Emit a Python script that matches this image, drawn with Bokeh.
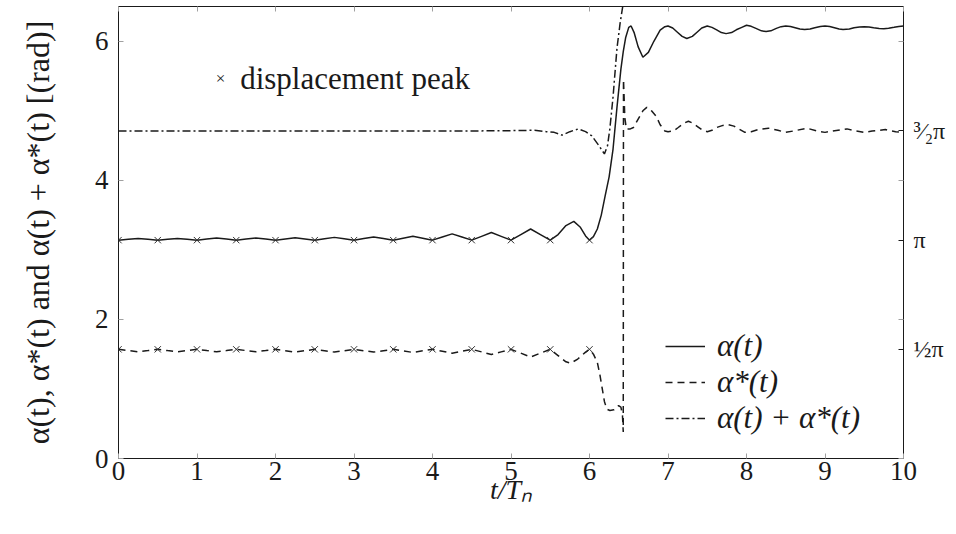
import math
from bokeh.plotting import figure
from bokeh.models import LinearAxis, FixedTicker, Range1d, Label
from bokeh.embed import file_html
from bokeh.resources import INLINE

# ---- data ----
alpha_t = [0, 0.125, 0.25, 0.375, 0.5, 0.625, 0.75, 0.875, 1.0, 1.125, 1.25, 1.375, 1.5,
           1.625, 1.75, 1.875, 2.0, 2.125, 2.25, 2.375, 2.5, 2.625, 2.75, 2.875, 3.0,
           3.125, 3.25, 3.375, 3.5, 3.625, 3.75, 3.875, 4.0, 4.125, 4.25, 4.375, 4.5,
           4.625, 4.75, 4.875, 5.0, 5.125, 5.25, 5.375, 5.5, 5.6, 5.7, 5.8, 5.88, 5.95, 6.0,
           6.05, 6.1, 6.15, 6.2, 6.25, 6.3, 6.35, 6.4, 6.43, 6.46, 6.5, 6.53, 6.57, 6.62,
           6.68, 6.75, 6.82, 6.9, 6.96, 7.0, 7.06, 7.12, 7.18, 7.24, 7.31, 7.37, 7.43, 7.5,
           7.56, 7.62, 7.68, 7.74, 7.81, 7.87, 7.94, 8.0, 8.06, 8.12, 8.19, 8.25, 8.31, 8.38,
           8.44, 8.5, 8.56, 8.62, 8.68, 8.74, 8.81, 8.87, 8.94, 9.0, 9.06, 9.12, 9.18, 9.23,
           9.31, 9.37, 9.44, 9.5, 9.56, 9.62, 9.69, 9.75, 9.81, 9.88, 9.94, 10.0]
alpha_v = [3.14, 3.153, 3.165, 3.153, 3.14, 3.153, 3.165, 3.153, 3.14, 3.155, 3.17, 3.155, 3.14,
           3.155, 3.17, 3.155, 3.14, 3.158, 3.175, 3.158, 3.14, 3.16, 3.18, 3.16, 3.14,
           3.163, 3.185, 3.163, 3.14, 3.168, 3.195, 3.168, 3.14, 3.185, 3.23, 3.185, 3.14,
           3.195, 3.25, 3.195, 3.14, 3.22, 3.30, 3.22, 3.14, 3.22, 3.35, 3.41, 3.33, 3.2, 3.14,
           3.19, 3.30, 3.50, 3.78, 4.05, 4.45, 5.05, 5.6, 5.85, 6.05, 6.2, 6.22, 6.12, 5.92,
           5.77, 5.84, 6.0, 6.16, 6.21, 6.22, 6.19, 6.13, 6.07, 6.04, 6.07, 6.13, 6.19, 6.22,
           6.20, 6.165, 6.125, 6.11, 6.125, 6.165, 6.20, 6.23, 6.215, 6.185, 6.15, 6.14, 6.15, 6.185,
           6.21, 6.22, 6.213, 6.195, 6.177, 6.17, 6.177, 6.195, 6.213, 6.22, 6.213, 6.195, 6.177, 6.17,
           6.177, 6.195, 6.205, 6.21, 6.205, 6.195, 6.185, 6.18, 6.187, 6.2, 6.212, 6.22]

astar_t = [0, 0.125, 0.25, 0.375, 0.5, 0.625, 0.75, 0.875, 1.0, 1.125, 1.25, 1.375, 1.5,
           1.625, 1.75, 1.875, 2.0, 2.125, 2.25, 2.375, 2.5, 2.625, 2.75, 2.875, 3.0,
           3.125, 3.25, 3.375, 3.5, 3.625, 3.75, 3.875, 4.0, 4.125, 4.25, 4.375, 4.5,
           4.625, 4.75, 4.875, 5.0, 5.125, 5.25, 5.375, 5.5, 5.6, 5.7, 5.76, 5.85, 5.95, 6.0,
           6.05, 6.1, 6.13, 6.16, 6.19, 6.22, 6.26, 6.31, 6.37, 6.40, 6.42, 6.43, 6.433, 6.45,
           6.47, 6.52, 6.56, 6.62, 6.68, 6.73, 6.79, 6.85, 6.9, 6.96, 7.0, 7.07, 7.13, 7.2,
           7.26, 7.32, 7.38, 7.44, 7.5, 7.56, 7.62, 7.7, 7.77, 7.84, 7.9, 7.98, 8.06, 8.15,
           8.28, 8.4, 8.5, 8.6, 8.77, 8.9, 9.0, 9.1, 9.28, 9.4, 9.5, 9.6, 9.77, 9.9, 10.0]
astar_v = [1.57, 1.552, 1.535, 1.552, 1.57, 1.552, 1.535, 1.552, 1.57, 1.552, 1.535, 1.552, 1.57,
           1.552, 1.535, 1.552, 1.57, 1.55, 1.53, 1.55, 1.57, 1.55, 1.53, 1.55, 1.57,
           1.55, 1.53, 1.55, 1.57, 1.548, 1.525, 1.548, 1.57, 1.543, 1.515, 1.543, 1.57,
           1.533, 1.495, 1.533, 1.57, 1.515, 1.46, 1.515, 1.57, 1.48, 1.39, 1.37, 1.43, 1.53, 1.57,
           1.50, 1.38, 1.22, 1.02, 0.82, 0.71, 0.69, 0.70, 0.76, 0.74, 0.62, 0.38, 5.45, 4.9,
           4.74, 4.74, 4.76, 4.88, 5.0, 5.05, 5.0, 4.92, 4.8, 4.71, 4.70, 4.71, 4.76, 4.82,
           4.85, 4.82, 4.77, 4.72, 4.70, 4.72, 4.76, 4.79, 4.80, 4.78, 4.74, 4.69, 4.70, 4.73,
           4.75, 4.72, 4.69, 4.71, 4.75, 4.71, 4.69, 4.71, 4.74, 4.71, 4.69, 4.71, 4.73, 4.70, 4.69]

sum_t = [0, 1, 2, 3, 4, 4.5, 5.0, 5.3, 5.45, 5.55, 5.65, 5.75, 5.86, 5.95, 6.03, 6.12,
         6.19, 6.23, 6.26, 6.3, 6.35, 6.39, 6.43, 6.46]
sum_v = [4.71, 4.71, 4.71, 4.71, 4.71, 4.71, 4.715, 4.72, 4.70, 4.69, 4.65, 4.70, 4.74, 4.70,
         4.64, 4.5, 4.38, 4.5, 4.75, 5.2, 5.9, 6.26, 6.55, 6.8]

peak_t = [0, 0.5, 1.0, 1.5, 2.0, 2.5, 3.0, 3.5, 4.0, 4.5, 5.0, 5.5, 6.0]
peak_alpha = [3.14, 3.14, 3.14, 3.14, 3.14, 3.14, 3.14, 3.14, 3.14, 3.14, 3.14, 3.14, 3.14]
peak_astar = [1.57, 1.57, 1.57, 1.57, 1.57, 1.57, 1.57, 1.57, 1.57, 1.57, 1.57, 1.57, 1.57]

x_ticks = [0, 1, 2, 3, 4, 5, 6, 7, 8, 9, 10]
y_ticks = [0, 2, 4, 6]
pi_ticks = [math.pi / 2, math.pi, 3 * math.pi / 2]
pi_labels = ["½π", "π", "³⁄₂π"]

FONT = "Liberation Serif"
INK = "#1a1a1a"
TICK = "#a0a0a0"

p = figure(width=948, height=518, x_range=Range1d(0, 10), y_range=Range1d(0, 6.5),
           output_backend="svg", toolbar_location=None,
           x_axis_location=None, y_axis_location=None,
           min_border_left=118, min_border_right=42, min_border_top=6, min_border_bottom=60)
p.outline_line_color = INK
p.outline_line_width = 1
p.background_fill_color = "white"
p.border_fill_color = "white"
p.grid.visible = False


def style_axis(ax, size="26px"):
    ax.axis_line_color = None
    ax.major_tick_in = 5
    ax.major_tick_out = 0
    ax.minor_tick_in = 0
    ax.minor_tick_out = 0
    ax.major_tick_line_color = TICK
    ax.major_label_text_font = FONT
    ax.major_label_text_font_size = size
    ax.major_label_text_color = INK
    ax.axis_label_text_font = FONT
    ax.axis_label_text_font_size = "28px"
    ax.axis_label_text_color = INK


xb = LinearAxis(ticker=FixedTicker(ticks=x_ticks), axis_label="t/Tₙ")
style_axis(xb, "27px")
xb.major_label_standoff = 3
xb.axis_label_standoff = -9
xb.axis_label_text_font_style = "italic"
p.add_layout(xb, "below")

xt = LinearAxis(ticker=FixedTicker(ticks=x_ticks))
style_axis(xt, "0px")
xt.major_label_standoff = 0
xt.major_label_overrides = {t: "" for t in x_ticks}
p.add_layout(xt, "above")

yl = LinearAxis(ticker=FixedTicker(ticks=y_ticks),
                axis_label="α(t), α*(t) and α(t) + α*(t) [(rad)]")
style_axis(yl, "27px")
yl.major_label_standoff = 10
yl.axis_label_standoff = 36
yl.axis_label_text_font_size = "32px"
yl.axis_label_text_font_style = "normal"
p.add_layout(yl, "left")

yr = LinearAxis(ticker=FixedTicker(ticks=pi_ticks, minor_ticks=y_ticks))
style_axis(yr, "24px")
yr.major_tick_line_color = INK
yr.minor_tick_in = 5
yr.minor_tick_line_color = TICK
yr.major_label_standoff = 10
yr.major_label_overrides = {t: s for t, s in zip(pi_ticks, pi_labels)}
p.add_layout(yr, "right")

p.line(alpha_t, alpha_v, line_color=INK, line_width=1.5, legend_label="α(t)")
p.line(astar_t, astar_v, line_color=INK, line_width=1.5, line_dash="7 5",
       legend_label="α*(t)")
p.line(sum_t, sum_v, line_color=INK, line_width=1.5, line_dash="8 3 2 3",
       legend_label="α(t) + α*(t)")
p.scatter(peak_t, peak_alpha, marker="x", size=9, line_color="#333333", line_width=1)
p.scatter(peak_t, peak_astar, marker="x", size=9, line_color="#333333", line_width=1)

p.add_layout(Label(x=1.3, y=5.47, text="×", text_font=FONT, text_font_size="17px",
                   text_color=INK, text_baseline="middle", text_align="center"))
p.add_layout(Label(x=1.55, y=5.47, text="displacement peak", text_font=FONT,
                   text_font_size="31px", text_color=INK, text_baseline="middle"))

lg = p.legend[0]
lg.location = (547, 22)
lg.border_line_color = None
lg.background_fill_alpha = 0
lg.padding = 0
lg.margin = 0
lg.spacing = 0
lg.glyph_width = 40
lg.label_standoff = 12
lg.label_text_font = FONT
lg.label_text_font_size = "31px"
lg.label_text_font_style = "italic"
lg.label_text_color = INK

open("out.html", "w").write(file_html(p, INLINE))
